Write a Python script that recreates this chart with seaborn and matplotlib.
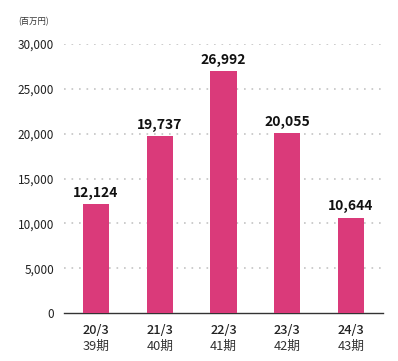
import matplotlib
matplotlib.use("Agg")
import matplotlib.pyplot as plt
import seaborn as sns
import pandas as pd

# data
periods = ["20/3", "21/3", "22/3", "23/3", "24/3"]
terms = ["39期", "40期", "41期", "42期", "43期"]
sales = [12124, 19737, 26992, 20055, 10644]
yticks = [0, 5000, 10000, 15000, 20000, 25000, 30000]

bar_color = "#DA3A7A"

sns.set_theme(style="white")
plt.rcParams["font.family"] = ["Noto Sans CJK JP", "DejaVu Sans"]

df = pd.DataFrame({"period": periods, "sales": sales})

fig = plt.figure(figsize=(3.98, 3.61), dpi=100)
ax = fig.add_axes([0.161, 0.133, 0.801, 0.745])

sns.barplot(data=df, x="period", y="sales", color=bar_color, width=0.41,
            saturation=1, linewidth=0, ax=ax, zorder=3)

ax.set_xlim(-0.5, 4.5)
ax.set_ylim(0, 30000)
ax.set_yticks(yticks)
ax.set_yticklabels([f"{v:,}" for v in yticks], fontsize=8.5, color="#222222")

# dotted grid lines
for v in yticks[1:]:
    ax.axhline(v, color="#c4c4c4", linestyle=(0, (1, 3.5)), linewidth=1.2, zorder=1)

for s in ["top", "right", "left"]:
    ax.spines[s].set_visible(False)
ax.spines["bottom"].set_color("#333333")
ax.spines["bottom"].set_linewidth(1)
ax.tick_params(axis="y", length=0, pad=7)
ax.tick_params(axis="x", length=0)

ax.set_xticks(range(len(periods)))
ax.set_xticklabels([""] * len(periods))
for i, (p, t) in enumerate(zip(periods, terms)):
    ax.text(i, -1200, p, ha="center", va="top", fontsize=9.2, color="#222222",
            fontweight="medium", clip_on=False)
    ax.text(i, -3000, t, ha="center", va="top", fontsize=9.2, color="#333333",
            clip_on=False)

for i, v in enumerate(sales):
    ax.text(i, v + 500, f"{v:,}", ha="center", va="bottom", fontsize=10,
            fontweight="bold", color="#111111", clip_on=False)

ax.set_xlabel("")
ax.set_ylabel("")
fig.text(0.045, 0.94, "(百万円)", fontsize=6, color="#333333", ha="left", va="center")

fig.savefig("out.png", dpi=100)
